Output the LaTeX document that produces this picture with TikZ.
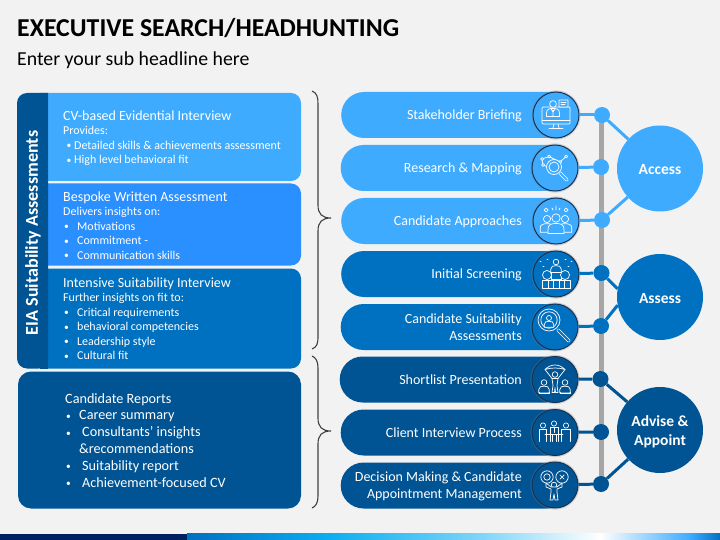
\documentclass[tikz,border=0pt]{standalone}
\usepackage{fontspec}
\setmainfont{Carlito}
\usetikzlibrary{shadows}
\definecolor{pagegray}{RGB}{242,242,242}
\definecolor{barGray}{RGB}{166,166,166}
\definecolor{accessblue}{RGB}{63,171,255}
\definecolor{bespokeblue}{RGB}{42,143,255}
\definecolor{assessblue}{RGB}{0,112,192}
\definecolor{adviseblue}{RGB}{0,84,147}
\definecolor{ringdark}{RGB}{22,50,85}
\definecolor{bracegray}{RGB}{64,64,64}
\definecolor{navyband}{RGB}{0,32,96}
\definecolor{bandcyan}{RGB}{10,175,240}
\definecolor{bandpale}{RGB}{127,212,248}
\newcommand{\bul}[2][14pt]{\makebox[#1][l]{\hspace{1pt}\raisebox{.5pt}{\fontsize{9.5}{9.5}\selectfont\textbullet}}#2}
\newcommand{\iconperson}[4]{%
  \begin{scope}[shift={(#1,#2)},scale=#3]
    \draw[iconline, fill=#4] (-1.9,3.7) -- (-1.9,2.6) .. controls (-1.9,1.5) and (-1,1.3) .. (0,1.3)
      .. controls (1,1.3) and (1.9,1.5) .. (1.9,2.6) -- (1.9,3.7) -- cycle;
    \draw[iconline, fill=#4] (0,0) circle (1);
  \end{scope}}
\tikzset{
  iconline/.style={draw=white, line width=0.7pt, line join=round, line cap=round},
  pill/.style={rounded corners=23pt, minimum height=46pt, minimum width=230pt, inner sep=0pt, anchor=west},
  pilltext/.style={text=white, font=\fontsize{14}{17}\selectfont, align=right, anchor=east, inner sep=0pt},
  iconring/.style={circle, minimum size=46pt, inner sep=0pt, draw=ringdark, line width=1pt,
    drop shadow={opacity=.3, shadow xshift=0pt, shadow yshift=0pt, shadow scale=1.07}},
  junction/.style={circle, minimum size=16pt, inner sep=0pt},
  stage/.style={circle, minimum size=86pt, inner sep=0pt, text=white, align=center,
    font=\bfseries\fontsize{15.5}{19.5}\selectfont},
  boxtext/.style={text=white, anchor=north west, inner sep=0pt, align=left,
    font=\fontsize{12}{14.5}\selectfont},
  linkline/.style={line width=3pt},
  bracket/.style={draw=bracegray, line width=1.1pt},
  pics/briefing/.style={code={
    \draw[iconline, rounded corners=1pt] (-14,-8) rectangle (14,9);
    \draw[iconline] (-14,5.5) -- (14,5.5);
    \draw[iconline] (-2,9) -- (-3,13) (2,9) -- (3,13) (-7,13.5) -- (7,13.5);
    \iconperson{-3}{-11}{3.4}{#1}
    \draw[iconline] (-3,-5) -- (-3,1) (-5,-6) -- (-3,-3) -- (-1,-6);
    \draw[iconline, fill=#1, rounded corners=.5pt] (3,-15) rectangle (12,-8);
    \draw[iconline] (5,-13) -- (10,-13) (5,-10.5) -- (9,-10.5);
  }},
  pics/mapping/.style={code={
    \draw[iconline] (-13,-9) -- (-6,-11.5) -- (5,-6) -- (11,-11.5) (-13,-9) -- (-12,-3) -- (-7,-1);
    \foreach \px/\py in {-13/-9, -6/-11.5, 5/-6, 11/-11.5, -12/-3}
      \draw[iconline, fill=#1] (\px,\py) circle (1.5);
    \draw[iconline, fill=#1] (-1,-1) circle (7.5);
    \draw[iconline] (-1,-1) circle (5);
    \draw[draw=white, line width=3.4pt, line cap=round] (5,5) -- (12,12);
    \draw[draw=#1, line width=1.8pt, line cap=round] (5,5) -- (12,12);
  }},
  pics/approaches/.style={code={
    \draw[iconline] (-10,-13) -- (-8,-11) -- (-10,-9) -- (-12,-11) -- cycle
      (10,-13) -- (12,-11) -- (10,-9) -- (8,-11) -- cycle
      (0,-15) -- (0,-11) (-4,-13) -- (-3,-11) (4,-13) -- (3,-11);
    \iconperson{-9}{-2}{3.6}{#1}
    \iconperson{9}{-2}{3.6}{#1}
    \iconperson{0}{-3}{4.2}{#1}
  }},
  pics/screening/.style={code={
    \iconperson{0}{-12}{2.8}{#1}
    \draw[iconline] (-5,-2) rectangle (5,5);
    \draw[iconline] (-16,-13) -- (-15,-13) (-9,-15) -- (-8,-15) (9,-15) -- (10,-15) (15,-13) -- (16,-13)
      (-13,-8) -- (-12,-8) (12,-8) -- (13,-8);
    \draw[iconline, fill=#1] (-9,1) circle (4.5);
    \draw[iconline, fill=#1] (9,1) circle (4.5);
    \draw[iconline, fill=#1] (-14,6) rectangle (14,14);
    \draw[iconline] (-3,6) -- (-3,14) (3,6) -- (3,14) (-8,6) -- (-8,14) (8,6) -- (8,14);
  }},
  pics/suitability/.style={code={
    \draw[iconline] (-6,-7) circle (11);
    \draw[iconline] (-6,-7) circle (8.2);
    \iconperson{-6}{-9}{2.5}{#1}
    \draw[draw=white, line width=3.4pt, line cap=round] (3,3) -- (14,14);
    \draw[draw=#1, line width=1.8pt, line cap=round] (3,3) -- (14,14);
  }},
  pics/shortlist/.style={code={
    \draw[iconline] (-10,-10) .. controls (-4,-16) and (4,-16) .. (10,-10)
      .. controls (4,-12) and (-4,-12) .. (-10,-10) -- cycle;
    \draw[iconline] (-10,-10) -- (-3,-1) (10,-10) -- (3,-1);
    \draw[iconline, fill=#1] (0,-5) circle (2.8);
    \draw[iconline, fill=#1] (-3,-1) -- (3,-1) -- (2,6) -- (3,13) -- (0.5,13) -- (0,8) -- (-0.5,13) -- (-3,13) -- (-2,6) -- cycle;
    \iconperson{-11}{3}{2.8}{#1}
    \iconperson{10}{3}{2.8}{#1}
    \draw[iconline] (-16,13) -- (-16,14) -- (-6,14) -- (-6,13) (5,13) -- (5,14) -- (15,14) -- (15,13);
  }},
  pics/interview/.style={code={
    \draw[iconline] (-12,-7) circle (2.6) (-1,-9) circle (2.6) (11,-7) circle (2.6);
    \draw[iconline] (-16,9) -- (-16,-3) -- (-9,-3) -- (-9,9)
      (6,9) -- (6,-3) -- (15,-3) -- (15,9) (-5,9) -- (-5,-5) -- (3,-5) -- (3,9);
    \draw[iconline] (-10,2) -- (8,2) (-3,2) -- (-3,9) (1,2) -- (1,9) (-1,-5) -- (-1,0);
  }},
  pics/decision/.style={code={
    \draw[iconline] (-8,-8) circle (6.2) (-8,-8) circle (3.2);
    \draw[iconline] (7,-8) circle (6.2) (4.8,-10.2) -- (9.2,-5.8) (9.2,-10.2) -- (4.8,-5.8);
    \draw[iconline, fill=#1] (-1,0) circle (2.8);
    \draw[iconline, fill=#1] (-9,-2) -- (-9,2) -- (-4,4) -- (-4,7) -- (-5,15) -- (-2,15) -- (-1,9)
      -- (0,15) -- (3,15) -- (2,7) -- (2,4) -- (7,2) -- (7,-2) -- (2,2) -- (-4,2) -- cycle;
  }}
}

\begin{document}
\begin{tikzpicture}[x=1pt, y=-1pt]
\useasboundingbox (0,0) rectangle (720,540);
\fill[pagegray] (0,0) rectangle (720,540);

\node[anchor=west, inner sep=0pt, font=\bfseries\fontsize{25.8}{30}\selectfont] (headline) at (17,28) {EXECUTIVE SEARCH/HEADHUNTING};
\node[anchor=west, inner sep=0pt, font=\fontsize{19.8}{23}\selectfont] (subheadline) at (17,60.5) {Enter your sub headline here};

% left column
\fill[accessblue, rounded corners=10pt] (30,93) rectangle (301,181);
\fill[bespokeblue, rounded corners=10pt] (30,183.5) rectangle (301,265.5);
\fill[assessblue, rounded corners=10pt] (30,268.5) rectangle (301,368.5);
\fill[adviseblue, rounded corners=13pt] (18,371.5) rectangle (301,508.5);
\fill[adviseblue, rounded corners=10pt] (48,93) -- (17,93) -- (17,368.5) -- (48,368.5) [sharp corners] -- cycle;
\fill[adviseblue] (40,93) rectangle (48,368.5);
\node[rotate=90, text=white, inner sep=0pt, font=\bfseries\fontsize{18.1}{20}\selectfont] (eialabel) at (33,233) {EIA Suitability Assessments};

\node[boxtext] (cvtext) at (63,110.5) {{\fontsize{14}{15}\selectfont CV-based Evidential Interview}\\
  Provides:\\
  \hspace{2.5pt}\bul[8.5pt]{Detailed skills \& achievements assessment}\\
  \hspace{2.5pt}\bul[8.5pt]{High level behavioral fit}};
\node[boxtext] (bespoketext) at (63,191.5) {{\fontsize{14}{15}\selectfont Bespoke Written Assessment}\\
  Delivers insights on:\\
  \bul{Motivations}\\
  \bul{Commitment -}\\
  \bul{Communication skills}};
\node[boxtext] (intensivetext) at (63,277.5) {{\fontsize{14}{15}\selectfont Intensive Suitability Interview}\\
  Further insights on fit to:\\
  \bul{Critical requirements}\\
  \bul{behavioral competencies}\\
  \bul{Leadership style}\\
  \bul{Cultural fit}};
\node[boxtext, font=\fontsize{14.2}{16.8}\selectfont] (reporttext) at (65,393) {Candidate Reports\\
  \bul{Career summary}\\
  \bul[17pt]{Consultants' insights}\\
  \hspace{14pt}\&recommendations\\
  \bul[17pt]{Suitability report}\\
  \bul[17pt]{Achievement-focused CV}};

\path[bracket] (312,91) .. controls (317,93) and (318,97) .. (318,104) -- (318,205)
  .. controls (318,214) and (322,218) .. (331,218) .. controls (322,218) and (318,222) .. (318,231)
  -- (318,336) .. controls (318,344) and (317,347) .. (312,349);
\path[bracket] (312,356) .. controls (316,358) and (318,361) .. (318,368) -- (318,418)
  .. controls (318,427) and (322,431) .. (331,431) .. controls (322,431) and (318,435) .. (318,444)
  -- (318,496) .. controls (318,503) and (316,506) .. (312,508);

% pills
\node[pill, fill=accessblue] (pillA) at (341,115) {};
\node[pill, fill=accessblue] (pillB) at (340.5,168) {};
\node[pill, fill=accessblue] (pillC) at (341,221) {};
\node[pill, fill=assessblue] (pillD) at (341,274) {};
\node[pill, fill=assessblue] (pillE) at (340.5,327) {};
\node[pill, fill=adviseblue] (pillF) at (339.5,379.5) {};
\node[pill, fill=adviseblue] (pillG) at (340.5,432.5) {};
\node[pill, fill=adviseblue] (pillH) at (340.5,485.5) {};

\node[pilltext] (textA) at (522,116) {Stakeholder Briefing};
\node[pilltext] (textB) at (522,169) {Research \& Mapping};
\node[pilltext] (textC) at (522,222) {Candidate Approaches};
\node[pilltext] (textD) at (522,275) {Initial Screening};
\node[pilltext] (textE) at (522,327) {Candidate Suitability\\Assessments};
\node[pilltext] (textF) at (522,380) {Shortlist Presentation};
\node[pilltext] (textG) at (522,433) {Client Interview Process};
\node[pilltext] (textH) at (522,486) {Decision Making \& Candidate\\Appointment Management};

% spine and junctions
\fill[barGray] (598.5,115) rectangle (604,484);
\node[junction, fill=accessblue] (dotA) at (602,115) {};
\node[junction, fill=accessblue] (dotB) at (601,167) {};
\node[junction, fill=accessblue] (dotC) at (602,220) {};
\node[junction, fill=assessblue] (dotD) at (601.5,273) {};
\node[junction, fill=assessblue] (dotE) at (601,326) {};
\node[junction, fill=adviseblue] (dotF) at (600.5,379) {};
\node[junction, fill=adviseblue] (dotG) at (601,432) {};
\node[junction, fill=adviseblue] (dotH) at (601,484) {};

% stages
\node[stage, fill=accessblue] (access) at (660,168.5) {\rule{0pt}{13pt}Access};
\node[stage, fill=assessblue] (assess) at (660,297) {\rule{0pt}{13pt}Assess};
\node[stage, fill=adviseblue] (advise) at (660,430) {\rule{0pt}{15pt}Advise \&\\[-.5pt]Appoint};

\node[iconring, fill=accessblue] (iconA) at (556,115) {};
\node[iconring, fill=accessblue] (iconB) at (555,168) {};
\node[iconring, fill=accessblue] (iconC) at (556,221) {};
\node[iconring, fill=assessblue] (iconD) at (556,274) {};
\node[iconring, fill=assessblue] (iconE) at (555,327) {};
\node[iconring, fill=adviseblue] (iconF) at (555,379.5) {};
\node[iconring, fill=adviseblue] (iconG) at (555,432.5) {};
\node[iconring, fill=adviseblue] (iconH) at (555,485) {};

\draw[linkline, accessblue] (iconA) -- (dotA);
\draw[linkline, accessblue] (iconB) -- (dotB);
\draw[linkline, accessblue] (iconC) -- (dotC);
\draw[linkline, assessblue] (iconD) -- (dotD);
\draw[linkline, assessblue] (iconE) -- (dotE);
\draw[linkline, adviseblue] (iconF) -- (dotF);
\draw[linkline, adviseblue] (iconG) -- (dotG);
\draw[linkline, adviseblue] (iconH) -- (dotH);
\draw[linkline, accessblue] (dotA) -- (access);
\draw[linkline, accessblue] (dotC) -- (access);
\draw[linkline, assessblue] (dotD) -- (assess.169);
\draw[linkline, assessblue] (dotE) -- (assess.191);
\draw[linkline, adviseblue] (dotF) -- (advise);
\draw[linkline, adviseblue] (dotH) -- (advise);

\pic at (iconA) {briefing=accessblue};
\pic at (iconB) {mapping=accessblue};
\pic at (iconC) {approaches=accessblue};
\pic at (iconD) {screening=assessblue};
\pic at (iconE) {suitability=assessblue};
\pic at (iconF) {shortlist=adviseblue};
\pic at (iconG) {interview=adviseblue};
\pic at (iconH) {decision=adviseblue};

% bottom band
\fill[navyband] (0,533.5) rectangle (187,540);
\shade[left color=assessblue, right color=bandcyan] (187,533.5) rectangle (330,540);
\shade[left color=bandcyan, right color=bandpale] (330,533.5) rectangle (480,540);
\shade[left color=bandpale, right color=white] (480,533.5) rectangle (600,540);
\shade[left color=white, right color=accessblue] (600,533.5) rectangle (690,540);
\shade[left color=accessblue, right color=assessblue] (690,533.5) rectangle (720,540);
\end{tikzpicture}
\end{document}
